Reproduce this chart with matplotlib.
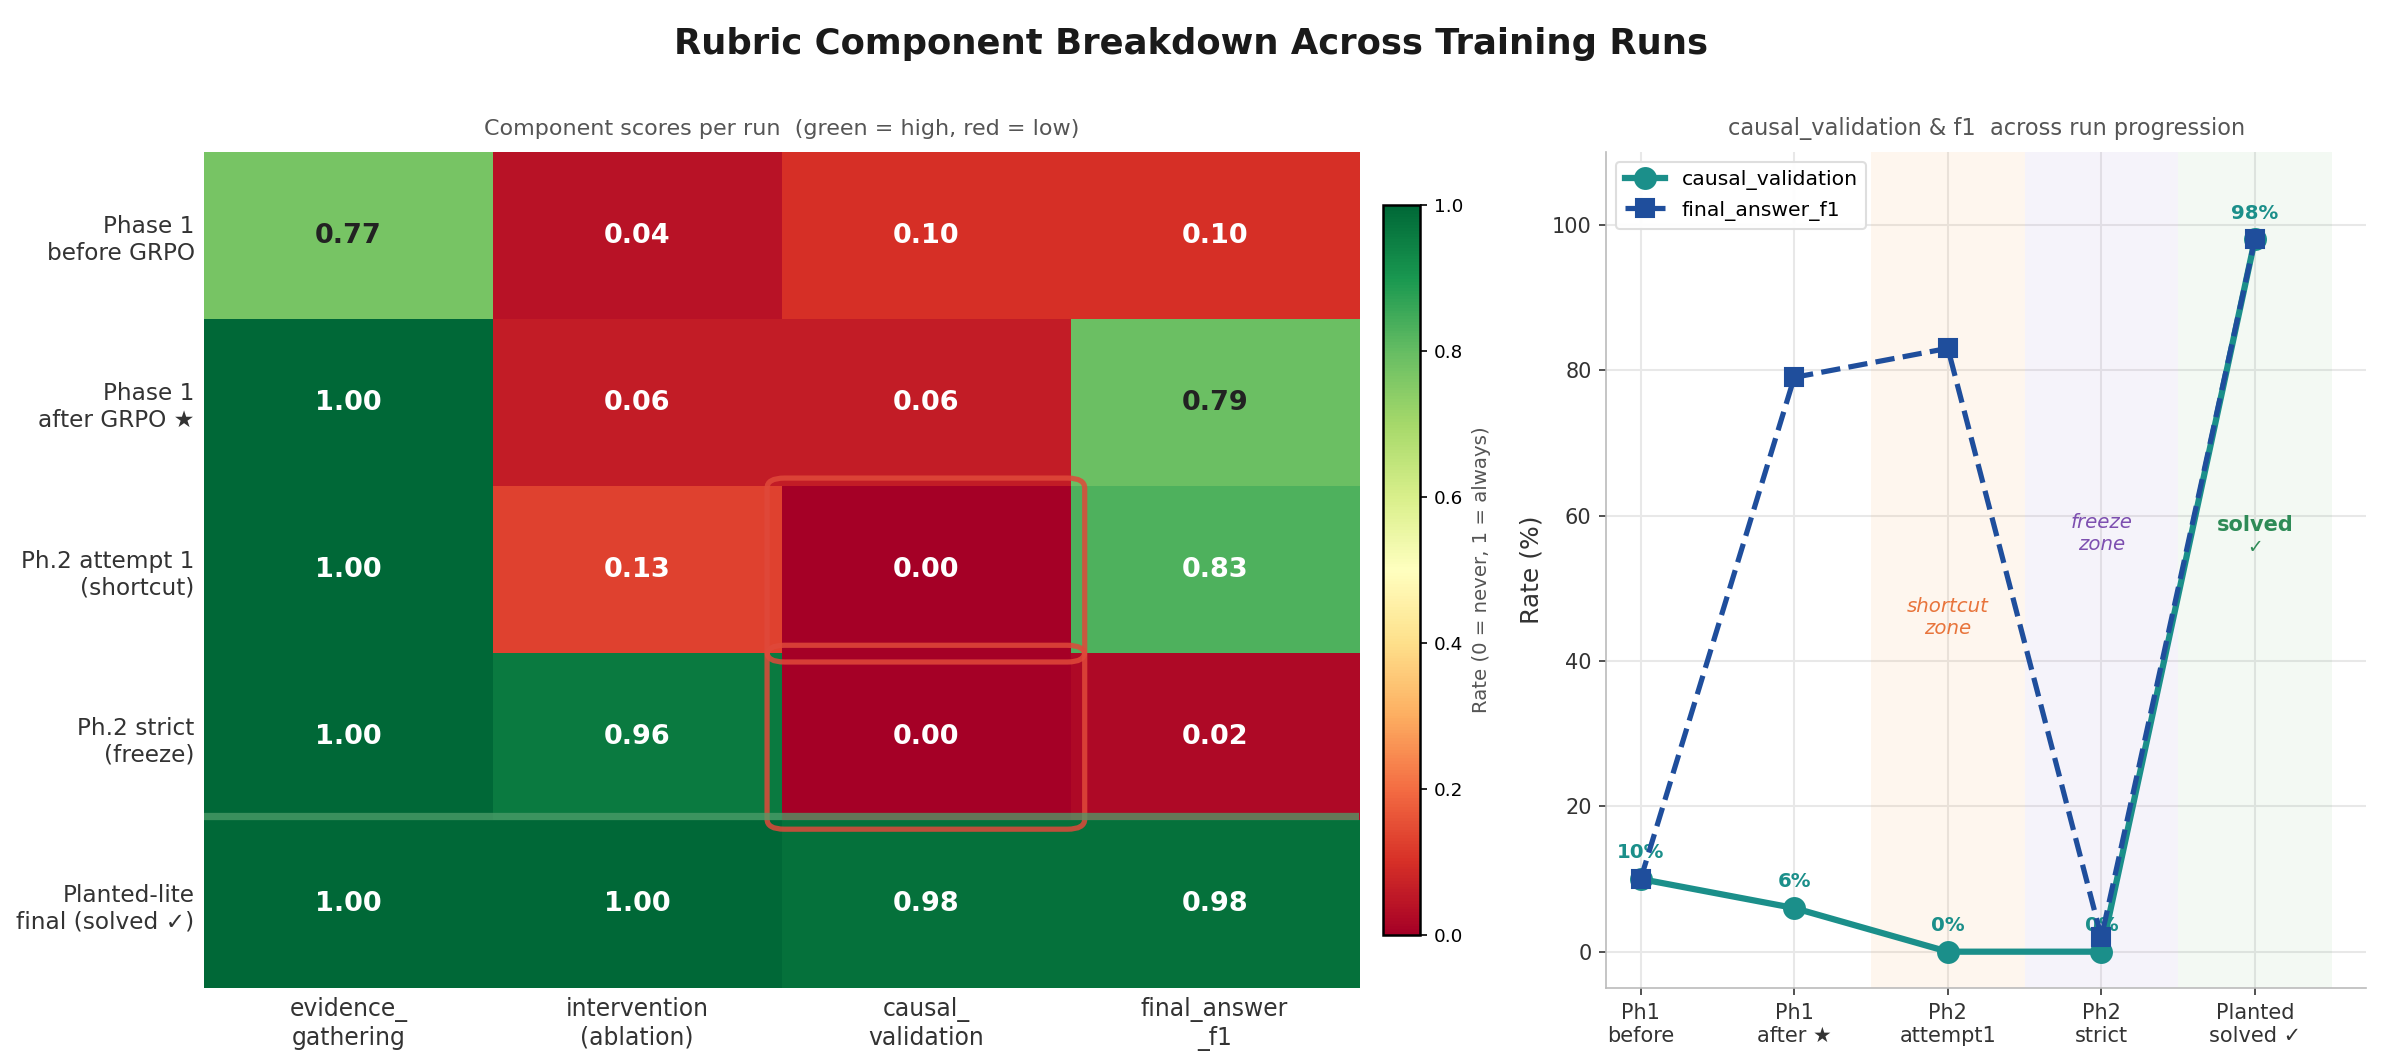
import matplotlib
matplotlib.use("Agg")
import matplotlib.pyplot as plt
import numpy as np
from matplotlib.patches import FancyBboxPatch

# ---------------- data ----------------
run_labels = [
    "Phase 1\nbefore GRPO",
    "Phase 1\nafter GRPO ★",
    "Ph.2 attempt 1\n(shortcut)",
    "Ph.2 strict\n(freeze)",
    "Planted-lite\nfinal (solved ✓)",
]
component_labels = [
    "evidence_\ngathering",
    "intervention\n(ablation)",
    "causal_\nvalidation",
    "final_answer\n_f1",
]
evidence_gathering = [0.77, 1.00, 1.00, 1.00, 1.00]
intervention = [0.04, 0.06, 0.13, 0.96, 1.00]
causal_validation = [0.10, 0.06, 0.00, 0.00, 0.98]
final_answer_f1 = [0.10, 0.79, 0.83, 0.02, 0.98]

progress_labels = ["Ph1\nbefore", "Ph1\nafter ★", "Ph2\nattempt1", "Ph2\nstrict", "Planted\nsolved ✓"]
causal_pct = [10, 6, 0, 0, 98]
f1_pct = [10, 79, 83, 2, 98]

TEAL = "#1b8f8a"
BLUE = "#1f4e9c"

# ---------------- figure ----------------
W, H, DPI = 2383, 1064, 150
fig = plt.figure(figsize=(W / DPI, H / DPI), dpi=DPI)
fig.suptitle("Rubric Component Breakdown Across Training Runs",
             fontsize=17, fontweight="bold", color="#1a1a1a", y=0.975)

ax = fig.add_axes([0.0856, 0.0714, 0.4847, 0.7857])
cax = fig.add_axes([0.5804, 0.1212, 0.0153, 0.686])
ax2 = fig.add_axes([0.674, 0.0714, 0.319, 0.7857])

# ---------------- heatmap ----------------
mat = np.array([evidence_gathering, intervention, causal_validation, final_answer_f1]).T
im = ax.imshow(mat, cmap="RdYlGn", vmin=0, vmax=1, aspect="auto")
for i in range(mat.shape[0]):
    for j in range(mat.shape[1]):
        v = mat[i, j]
        col = "white" if (v < 0.3 or v > 0.8) else "#222222"
        ax.text(j, i, f"{v:.2f}", ha="center", va="center",
                fontsize=13, fontweight="bold", color=col)

ax.set_xticks(range(len(component_labels)))
ax.set_xticklabels(component_labels, fontsize=11.3, color="#333333")
ax.set_yticks(range(len(run_labels)))
ax.set_yticklabels(run_labels, fontsize=11.2, color="#333333")
ax.tick_params(length=0, pad=4.5)
for s in ax.spines.values():
    s.set_visible(False)
ax.set_title("Component scores per run  (green = high, red = low)",
             fontsize=10.7, color="#555555", pad=8)

# separator before the final run
ax.axhline(3.47, color="#4e9e6a", lw=3.5, alpha=0.75)

# highlight the stuck causal_validation cells
for r in (2, 3):
    ax.add_patch(FancyBboxPatch((1.5, r - 0.5), 1.0, 1.0,
                                boxstyle="round,pad=0.05,rounding_size=0.06",
                                fill=False, ec="#e0493a", lw=2.5, alpha=0.85,
                                clip_on=False))

cb = fig.colorbar(im, cax=cax)
cb.set_ticks([0, 0.2, 0.4, 0.6, 0.8, 1.0])
cb.ax.tick_params(labelsize=8.8)
cb.outline.set_linewidth(1.2)
cb.set_label("Rate (0 = never, 1 = always)", fontsize=9.5, color="#555555")

# ---------------- progression plot ----------------
x = np.arange(len(progress_labels))
ax2.axvspan(1.5, 2.5, color="#f5a54a", alpha=0.09, lw=0)
ax2.axvspan(2.5, 3.5, color="#9b7fd0", alpha=0.09, lw=0)
ax2.axvspan(3.5, 4.5, color="#66b36b", alpha=0.08, lw=0)

ax2.plot(x, causal_pct, "-o", color=TEAL, lw=3, ms=10, label="causal_validation", zorder=3)
for xi, v in zip(x, causal_pct):
    ax2.text(xi, v + 2.3, f"{v}%", ha="center", va="bottom",
             fontsize=9.5, fontweight="bold", color=TEAL, zorder=3)
ax2.plot(x, f1_pct, "--s", color=BLUE, lw=2.5, ms=9, label="final_answer_f1", zorder=4)

ax2.text(2, 46, "shortcut\nzone", ha="center", va="center",
         fontsize=9.5, style="italic", color="#e8743b")
ax2.text(3, 57.5, "freeze\nzone", ha="center", va="center",
         fontsize=9.5, style="italic", color="#7d4fb0")
ax2.text(4, 58.7, "solved", ha="center", va="center",
         fontsize=10, fontweight="bold", color="#2e8b57")
ax2.text(4, 55.6, "✓", ha="center", va="center", fontsize=9, color="#2e8b57")

ax2.set_ylim(-5, 110)
ax2.set_yticks([0, 20, 40, 60, 80, 100])
ax2.set_xticks(x)
ax2.set_xticklabels(progress_labels, fontsize=10, color="#333333")
ax2.tick_params(axis="y", labelsize=10, colors="#333333")
ax2.tick_params(axis="x", colors="#333333")
ax2.set_ylabel("Rate (%)", fontsize=12, color="#333333")
ax2.grid(True, color="#e8e8e8", lw=1)
ax2.set_axisbelow(True)
for s in ("top", "right"):
    ax2.spines[s].set_visible(False)
for s in ("left", "bottom"):
    ax2.spines[s].set_color("#bbbbbb")
ax2.set_title("causal_validation & f1  across run progression",
              fontsize=10.8, color="#555555", pad=8)
ax2.legend(loc="upper left", fontsize=9.8, framealpha=0.95, edgecolor="#dddddd")

fig.savefig("out.png", dpi=DPI)
